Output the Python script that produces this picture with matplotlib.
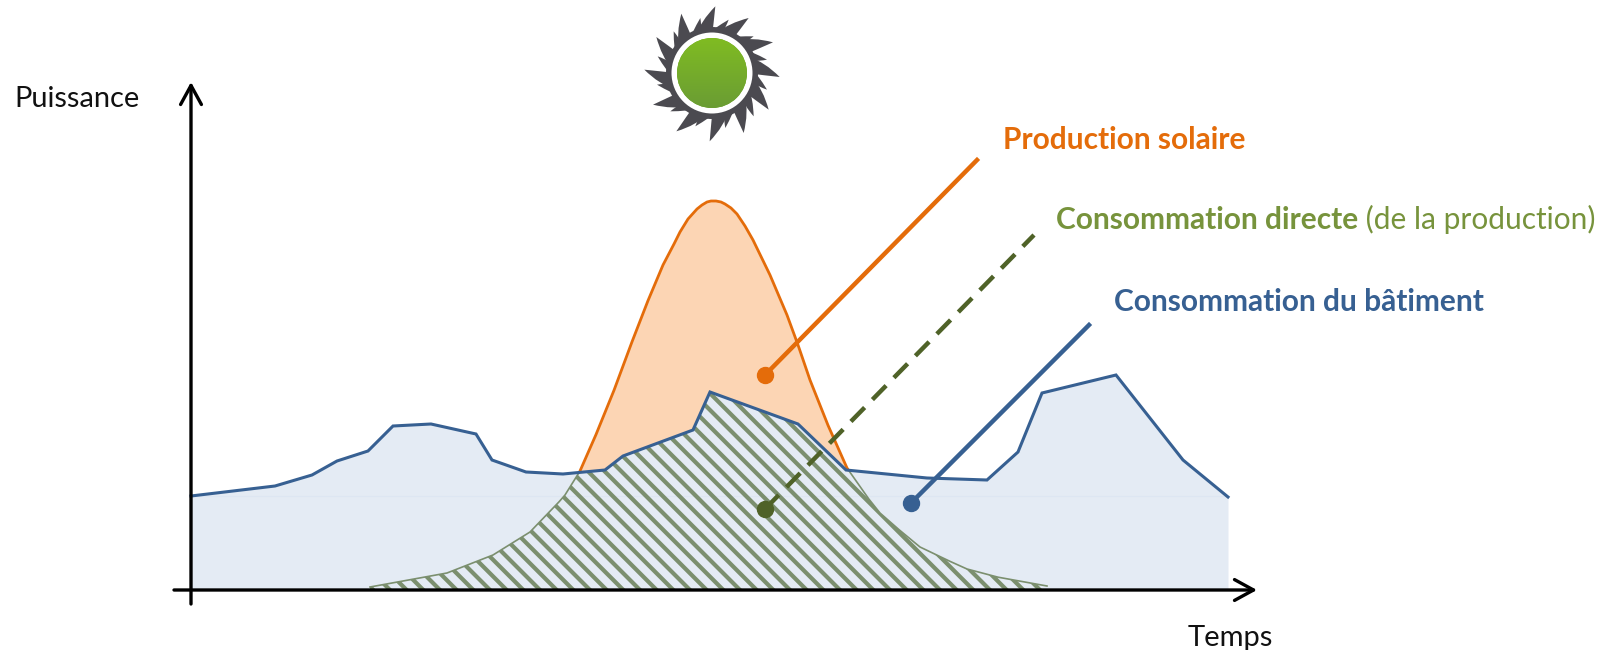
import numpy as np
import matplotlib
matplotlib.use("Agg")
import matplotlib.pyplot as plt
from matplotlib.patches import Circle, PathPatch
from matplotlib.path import Path
from matplotlib.colors import LinearSegmentedColormap

# courbes en unités de l'axe : temps, puissance depuis l'origine
CONSO_T = [0, 84, 121, 146, 177, 202, 240, 285, 301, 335, 372, 414, 432, 502, 519, 607, 655, 736, 796, 827, 851, 925, 992, 1037]
CONSO_P = [94, 104, 115, 129, 139, 164, 166, 156, 130, 118, 116, 120, 134, 160, 198, 166, 120, 112, 110, 138, 197, 215, 130, 93]
PROD_T = [179, 212, 256, 302, 339, 367, 374, 389, 404, 422, 439, 456, 472, 481, 489, 497, 506, 511, 516, 520, 525, 530, 534,
          540, 546, 554, 562, 579, 596, 606, 619, 636, 656, 677, 689, 706, 729, 756, 776, 806, 856]
PROD_P = [3, 9, 17, 35, 58, 87, 95, 119, 153, 197, 243, 287, 325, 342, 358, 371, 381, 385, 388, 389, 389, 388, 386,
          382, 376, 364, 350, 315, 275, 248, 210, 167, 122, 92, 77, 62, 43, 30, 21, 13, 4]

LABEL_PROD = "Production solaire"
LABEL_DIRECTE = "Consommation directe"
LABEL_DIRECTE_SUITE = " (de la production)"
LABEL_CONSO = "Consommation du bâtiment"

plt.rcParams["font.family"] = ["Lato", "DejaVu Sans"]
plt.rcParams["hatch.linewidth"] = 3.0
plt.rcParams["hatch.color"] = "#7b8f6e"

ORANGE = "#e46c0a"
BLUE = "#376092"
GREEN = "#77933c"
DARK_GREEN = "#4f6228"
SUN_DARK = "#4b4a50"

fig = plt.figure(figsize=(16.18, 6.5), dpi=100)
ax = fig.add_axes([0, 0, 1, 1])
# origine des axes placée au croisement des flèches
ax.set_xlim(-191, 1427)
ax.set_ylim(-60, 590)
ax.axis("off")

grid = np.arange(0, 1038)
conso = np.interp(grid, CONSO_T, CONSO_P)
prod = np.interp(grid, PROD_T, PROD_P, left=0, right=0)
direct = np.minimum(conso, prod)

ax.fill_between(CONSO_T, 0, CONSO_P, color="#e4ebf4", lw=0, zorder=1)
ax.axhline(94, xmin=191 / 1618, xmax=1228 / 1618, color="#dde6f2", lw=0.8, zorder=1.1)
ax.fill_between(grid, conso, prod, where=prod > conso, color="#fcd5b4", lw=0, zorder=1.2)
ax.plot(grid[prod > conso], prod[prod > conso], color=ORANGE, lw=2.0, zorder=2.2)

ax.fill_between(grid, 0, direct, where=prod > 0, facecolor="none", edgecolor="#7b8f6e",
                hatch="\\\\", lw=0, zorder=1.5)
mask = (prod > 0) & (prod <= conso)
ax.plot(grid[mask & (grid < 500)], prod[mask & (grid < 500)], color="#7b8f6e", lw=1.2, zorder=1.6)
ax.plot(grid[mask & (grid > 500)], prod[mask & (grid > 500)], color="#7b8f6e", lw=1.2, zorder=1.6)
ax.plot(CONSO_T, CONSO_P, color=BLUE, lw=2.2, zorder=3, solid_joinstyle="miter")
ax.plot([0, 0], [0, CONSO_P[0]], color="#808080", lw=1.5, zorder=3)

# flèches des axes
arrow = dict(arrowstyle="->,head_length=1.37,head_width=0.75", color="black", lw=2.4, shrinkA=0, shrinkB=0)
ax.annotate("", xy=(1066, 0), xytext=(-17, 0), arrowprops=arrow, zorder=4)
ax.annotate("", xy=(0, 508), xytext=(0, -14), arrowprops=arrow, zorder=4)
ax.text(14 - 191, 590 - 107, "Puissance", fontsize=20.9, va="baseline", ha="left", color="#111111")
ax.text(1188 - 191, 590 - 646, "Temps", fontsize=21, va="baseline", ha="left", color="#111111")

# repères reliant les courbes à leur légende
ax.plot([574, 786], [215, 430], color=ORANGE, lw=3.2, zorder=5)
ax.plot([574], [215], "o", color=ORANGE, ms=11.5, zorder=5)
ax.plot([574, 843], [81, 355], color=DARK_GREEN, lw=3.2, ls=(0, (4.4, 2.5)), zorder=5)
ax.plot([574], [81], "o", color=DARK_GREEN, ms=11.5, zorder=5)
ax.plot([720, 898], [87, 265], color=BLUE, lw=3.2, zorder=5)
ax.plot([720], [87], "o", color=BLUE, ms=11.5, zorder=5)

ax.text(1003 - 191, 590 - 149, LABEL_PROD, fontsize=21.5, fontweight="bold", color=ORANGE, va="baseline")
t = ax.text(1056 - 191, 590 - 229, LABEL_DIRECTE, fontsize=21.5, fontweight="bold", color=GREEN, va="baseline")
fig.canvas.draw()
bb = t.get_window_extent()
ax.text(bb.x1 - 191, 590 - 229, LABEL_DIRECTE_SUITE, fontsize=21.5, color=GREEN, va="baseline")
ax.text(1114 - 191, 590 - 311, LABEL_CONSO, fontsize=21.5, fontweight="bold", color=BLUE, va="baseline")

# soleil : flammes courbes autour d'un disque vert
cx, cy = 521, 517
tips_long = [(285, 20), (385, 55), (458, 128), (478, 232), (445, 330), (370, 400),
             (268, 425), (168, 395), (98, 315), (72, 210), (108, 112), (183, 42)]
tips_short = [(240, 55), (325, 60), (400, 110), (440, 180), (440, 270), (400, 350),
              (315, 385), (225, 380), (150, 335), (110, 255), (112, 170), (160, 95)]
for tips, half in ((tips_long, 0.22), (tips_short, 0.13)):
    for zx, zy in tips:
        dx, dy = (zx - 275) / 3, (220 - zy) / 3
        ang = np.arctan2(dy, dx)
        r = np.hypot(dx, dy)
        base = ang + 0.26
        p0 = (cx + 40 * np.cos(base - half), cy + 40 * np.sin(base - half))
        p1 = (cx + 40 * np.cos(base + half), cy + 40 * np.sin(base + half))
        tip = (cx + dx, cy + dy)
        c0 = (cx + (r * 0.72) * np.cos(ang + 0.02), cy + (r * 0.72) * np.sin(ang + 0.02))
        c1 = (cx + (r * 0.80) * np.cos(ang + 0.26), cy + (r * 0.80) * np.sin(ang + 0.26))
        path = Path([p0, c0, tip, c1, p1, p0],
                    [Path.MOVETO, Path.CURVE3, Path.CURVE3, Path.CURVE3, Path.CURVE3, Path.CLOSEPOLY])
        ax.add_patch(PathPatch(path, facecolor=SUN_DARK, lw=0, zorder=6))
ax.add_patch(Circle((cx, cy), 46, color=SUN_DARK, lw=0, zorder=6))
ax.add_patch(Circle((cx, cy), 40.5, color="white", lw=0, zorder=7))
disc = Circle((cx, cy), 35, color="#70a828", lw=0, zorder=8)
ax.add_patch(disc)
cmap = LinearSegmentedColormap.from_list("sun", ["#80bc22", "#6a9c34"])
im = ax.imshow(np.linspace(0, 1, 64)[:, None], cmap=cmap, extent=(cx - 36, cx + 36, cy - 36, cy + 36),
               origin="upper", aspect="auto", zorder=9)
im.set_clip_path(disc)
ax.set_xlim(-191, 1427)
ax.set_ylim(-60, 590)

fig.savefig("out.png", dpi=100)
